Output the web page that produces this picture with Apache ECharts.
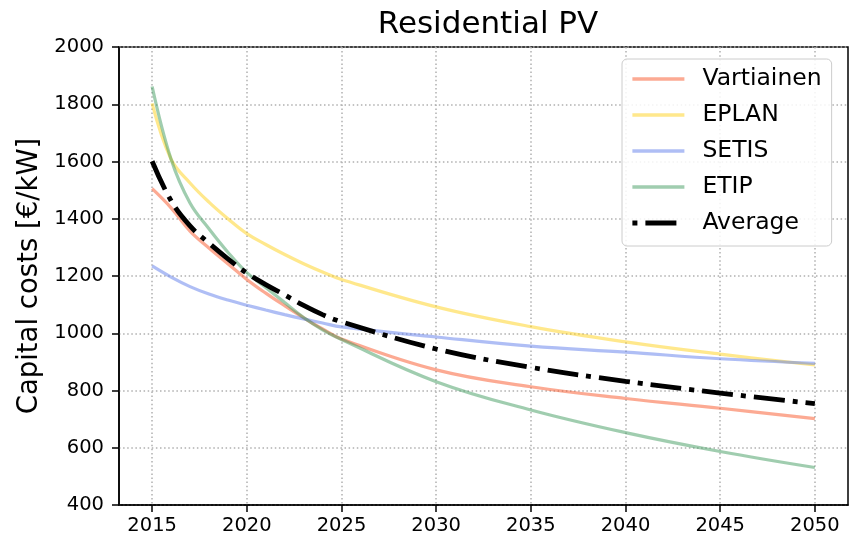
<!DOCTYPE html>
<html>
<head>
<meta charset="utf-8">
<script src="https://cdn.jsdelivr.net/npm/echarts@6/dist/echarts.min.js"></script>
<style>
html,body{margin:0;padding:0;background:#fff;}
#chart{width:856px;height:547px;}
</style>
</head>
<body>
<div id="chart"></div>
<script>
const years = [2015,2016,2017,2018,2019,2020,2021,2022,2023,2024,2025,2030,2035,2040,2045,2050];
const vartiainen = [1505,1438,1357,1298,1243,1188,1140,1096,1054,1015,980,872,813,772,738,702];
const eplan      = [1803,1608,1525,1458,1400,1348,1310,1275,1243,1214,1188,1092,1023,970,927,889];
const setis      = [1235,1196,1163,1137,1116,1098,1081,1065,1050,1036,1022,987,955,934,911,895];
const etip       = [1862,1608,1455,1365,1283,1212,1160,1107,1055,1012,978,831,732,653,587,531];
const average    = [1601,1463,1375,1315,1260,1210,1170,1134,1097,1065,1040,945,881,832,791,754];
const xTicks = [2015,2020,2025,2030,2035,2040,2045,2050];
const seriesNames = ['Vartiainen','EPLAN','SETIS','ETIP','Average'];

const FONT = 'DejaVu Sans';
const pair = arr => years.map((y,i)=>[y,arr[i]]);

const chart = echarts.init(document.getElementById('chart'), null, {renderer:'canvas'});
function lineSeries(name, data, color, opts) {
  return Object.assign({
    name: name, type: 'line', data: pair(data),
    symbol: 'none', smooth: 0.4,
    lineStyle: {color: color, width: 3.2, opacity: 0.5},
    itemStyle: {color: color},
    emphasis: {disabled: true},
    animation: false
  }, opts || {});
}
chart.setOption({
  animation: false,
  backgroundColor: '#fff',
  title: {
    text: 'Residential PV', left: 483, top: 4, textAlign: 'center',
    textStyle: {fontFamily: FONT, fontSize: 31, fontWeight: 'normal', color: '#000'}
  },
  grid: {left: 119, right: 8, top: 47, bottom: 42, show: true, borderColor: '#000', borderWidth: 1.5, containLabel: false},
  legend: {
    orient: 'vertical', left: 622, top: 59,
    padding: [6, 10, 9, 8],
    itemWidth: 52, itemHeight: 14, itemGap: 8,
    itemStyle: {opacity: 0},
    lineStyle: {width: 3.5},
    backgroundColor: 'rgba(255,255,255,0.85)', borderColor: '#cccccc', borderWidth: 1, borderRadius: 5,
    textStyle: {fontFamily: FONT, fontSize: 23.5, color: '#000', lineHeight: 28, padding: [0,0,0,13]},
    data: seriesNames.map(n => n === 'Average'
      ? {name: n, lineStyle: {width: 4.8, type: [31, 8, 5, 8], dashOffset: 39}}
      : {name: n})
  },
  xAxis: {
    type: 'value', min: 2013.25, max: 2051.75,
    axisLine: {show: true, onZero: false, lineStyle: {color: '#000', width: 1.5}},
    axisTick: {show: true, length: 7, customValues: xTicks, lineStyle: {color: '#000', width: 1.5}},
    axisLabel: {customValues: xTicks, margin: 11, fontFamily: FONT, fontSize: 19.5, color: '#000', formatter: v => String(v)},
    splitLine: {show: true, lineStyle: {color: '#b0b0b0', width: 1.5, type: [1.5, 2.6]}}
  },
  yAxis: {
    type: 'value', min: 400, max: 2000, interval: 200,
    name: 'Capital costs [€/kW]', nameLocation: 'middle', nameGap: 72, nameRotate: 90,
    nameTextStyle: {fontFamily: FONT, fontSize: 27.5, color: '#000'},
    axisLine: {show: true, lineStyle: {color: '#000', width: 1.5}},
    axisTick: {show: true, length: 7, lineStyle: {color: '#000', width: 1.5}},
    axisLabel: {margin: 15, fontFamily: FONT, fontSize: 19.5, color: '#000', formatter: v => String(v)},
    splitLine: {show: true, lineStyle: {color: '#b0b0b0', width: 1.5, type: [1.5, 2.6]}}
  },
  series: [
    lineSeries('Vartiainen', vartiainen, 'rgb(250,85,40)'),
    lineSeries('EPLAN', eplan, 'rgb(255,209,25)'),
    lineSeries('SETIS', setis, 'rgb(95,125,235)'),
    lineSeries('ETIP', etip, 'rgb(65,155,95)'),
    lineSeries('Average', average, '#000', {
      lineStyle: {color: '#000', width: 4.8, type: [31, 8, 5, 8], cap: 'butt'},
      z: 5
    })
  ]
});
</script>
</body>
</html>
